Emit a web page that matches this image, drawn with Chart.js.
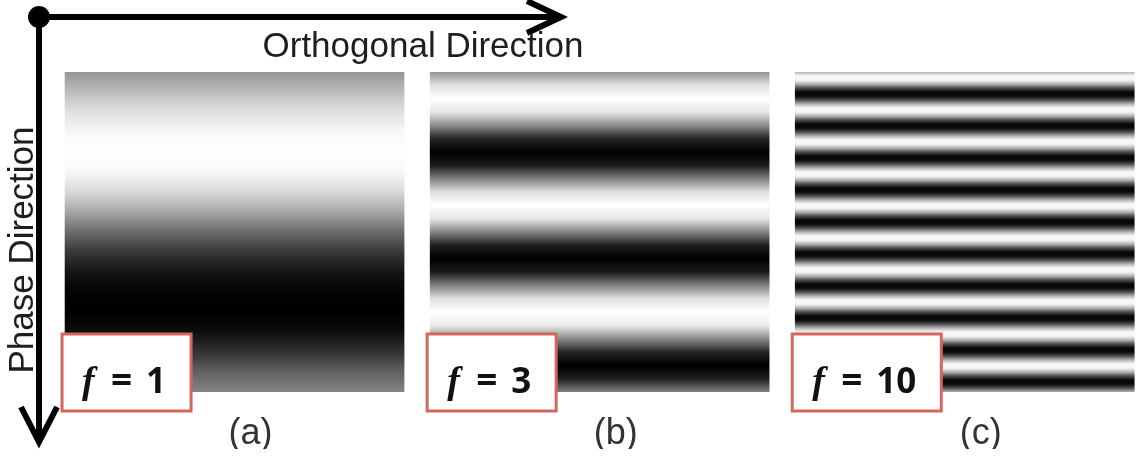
<!DOCTYPE html>
<html>
<head>
<meta charset="utf-8">
<script src="https://cdn.jsdelivr.net/npm/chart.js@4.4.0/dist/chart.umd.min.js"></script>
<style>
    html, body { margin: 0; padding: 0; background: #fff; }
    #wrap { width: 1140px; height: 460px; }
</style>
</head>
<body>
<div id="wrap"><canvas id="chart" width="1140" height="460"></canvas></div>
<script>
// Panel data
const panelLabels = ['(a)', '(b)', '(c)'];
const frequencies = [1, 3, 10];
const phaseExtent = [0, 1];
const axisTitleX = 'Orthogonal Direction';
const axisTitleY = 'Phase Direction';

// Gray level (0 = black, 1 = white) read top to bottom along the phase direction
const profileA = [0.58, 0.74, 0.88, 0.97, 1.0, 0.97, 0.85, 0.65, 0.42, 0.22, 0.08, 0.01, 0.0, 0.05, 0.2, 0.38, 0.52];
const profileB = [
    0.58, 0.88, 1.0, 0.9, 0.55, 0.14, 0.0, 0.1,
    0.5, 0.88, 1.0, 0.9, 0.52, 0.12, 0.0, 0.1,
    0.5, 0.88, 1.0, 0.92, 0.55, 0.14, 0.0, 0.12,
    0.5
];
const profileC = [
    0.7, 0.97, 0.97, 0.7, 0.3, 0.03, 0.03, 0.3,
    0.7, 0.97, 0.97, 0.7, 0.3, 0.03, 0.03, 0.3,
    0.7, 0.97, 0.97, 0.7, 0.3, 0.03, 0.03, 0.3,
    0.7, 0.97, 0.97, 0.7, 0.3, 0.03, 0.03, 0.3,
    0.7, 0.97, 0.97, 0.7, 0.3, 0.03, 0.03, 0.3,
    0.7, 0.97, 0.97, 0.7, 0.3, 0.03, 0.03, 0.3,
    0.7, 0.97, 0.97, 0.7, 0.3, 0.03, 0.03, 0.3,
    0.7, 0.97, 0.97, 0.7, 0.3, 0.03, 0.03, 0.3,
    0.7, 0.97, 0.97, 0.7, 0.3, 0.03, 0.03, 0.3,
    0.7, 0.97, 0.97, 0.7, 0.3, 0.03, 0.03, 0.3,
    0.7
];
const profiles = [profileA, profileB, profileC];

function grayAt(v) {
    const c = Math.round(v * 255);
    return `rgb(${c},${c},${c})`;
}

// Vertical gradient for a panel, stops placed through the y scale
function stripeFill(context) {
    const chart = context.chart;
    if (!chart.chartArea) return '#808080';
    const profile = profiles[context.dataIndex];
    const y = chart.scales.y;
    const top = y.getPixelForValue(phaseExtent[0]);
    const bottom = y.getPixelForValue(phaseExtent[1]);
    const g = chart.ctx.createLinearGradient(0, top, 0, bottom);
    profile.forEach((v, i) => {
        const phase = phaseExtent[0] + (phaseExtent[1] - phaseExtent[0]) * i / (profile.length - 1);
        g.addColorStop((y.getPixelForValue(phase) - top) / (bottom - top), grayAt(v));
    });
    return g;
}

function drawArrowHead(c, tipX, tipY, dx, dy) {
    // open chevron, dx/dy point back from the tip
    c.beginPath();
    c.moveTo(tipX + dx[0], tipY + dy[0]);
    c.lineTo(tipX, tipY);
    c.lineTo(tipX + dx[1], tipY + dy[1]);
    c.stroke();
}

const decorations = {
    id: 'decorations',
    afterDraw(chart) {
        const c = chart.ctx;
        const area = chart.chartArea;
        const ox = area.left - 13;
        const oy = area.top - 55;

        c.save();
        c.strokeStyle = '#000';
        c.fillStyle = '#000';
        c.lineWidth = 6;
        c.lineCap = 'butt';
        c.lineJoin = 'miter';

        // axis arrows
        c.beginPath();
        c.moveTo(ox, oy);
        c.lineTo(ox + 520, oy);
        c.moveTo(ox, oy);
        c.lineTo(ox, area.bottom + 48);
        c.stroke();
        drawArrowHead(c, ox + 522, oy, [-34, -34], [-16, 16]);
        drawArrowHead(c, ox, area.bottom + 50, [-18, 18], [-35, -35]);
        c.beginPath();
        c.arc(ox, oy, 11, 0, Math.PI * 2);
        c.fill();

        // axis titles
        c.fillStyle = '#1e1e1e';
        c.font = '35px "Liberation Sans", Arial, sans-serif';
        c.textAlign = 'center';
        c.textBaseline = 'alphabetic';
        c.fillText(axisTitleX, ox + 384, oy + 40);
        c.save();
        c.translate(ox - 6, (area.top + area.bottom) / 2 + 18);
        c.rotate(-Math.PI / 2);
        c.fillText(axisTitleY, 0, 0);
        c.restore();

        // frequency boxes
        const meta = chart.getDatasetMeta(0);
        meta.data.forEach((bar, i) => {
            const left = bar.x - bar.width / 2 - 3;
            const top = area.bottom - 58;
            const numText = String(frequencies[i]);
            c.font = 'bold 35px "Open Sans", sans-serif';
            const numW = c.measureText(numText).width;
            const w = 85 + numW + 24;
            const h = 77;
            c.fillStyle = '#fff';
            c.fillRect(left, top, w, h);
            c.strokeStyle = '#d4675d';
            c.lineWidth = 3;
            c.strokeRect(left, top, w, h);

            const base = top + 59;
            c.fillStyle = '#111';
            c.textAlign = 'left';
            c.font = 'bold italic 38px "Liberation Serif", serif';
            c.fillText('f', left + 20, base);
            c.font = 'bold 37px "Open Sans", sans-serif';
            c.fillText('=', left + 49, base);
            c.font = 'bold 35px "Open Sans", sans-serif';
            c.fillText(numText, left + 84, base);
        });
        c.restore();
    }
};

const chart = new Chart(document.getElementById('chart'), {
    type: 'bar',
    data: {
        datasets: [{
            data: panelLabels.map((_, i) => ({ x: i, y: phaseExtent })),
            backgroundColor: stripeFill,
            borderWidth: 0,
            barThickness: 339
        }]
    },
    options: {
        responsive: false,
        animation: false,
        layout: { padding: { left: 52, right: 0, top: 72, bottom: 11 } },
        plugins: {
            legend: { display: false },
            tooltip: { enabled: false }
        },
        scales: {
            x: {
                type: 'linear',
                position: 'bottom',
                offset: false,
                min: -0.5,
                max: 2.48,
                grid: { display: false, drawTicks: false },
                border: { display: false },
                afterFit: scale => { scale.height = 57; },
                ticks: {
                    stepSize: 1,
                    includeBounds: false,
                    autoSkip: false,
                    maxRotation: 0,
                    padding: 20,
                    labelOffset: 16,
                    color: '#333',
                    font: { family: '"Liberation Sans", Arial, sans-serif', size: 36 },
                    callback: v => panelLabels[v] ?? ''
                }
            },
            y: {
                type: 'linear',
                display: false,
                min: 0,
                max: 1,
                reverse: true
            }
        }
    },
    plugins: [decorations]
});
</script>
</body>
</html>
